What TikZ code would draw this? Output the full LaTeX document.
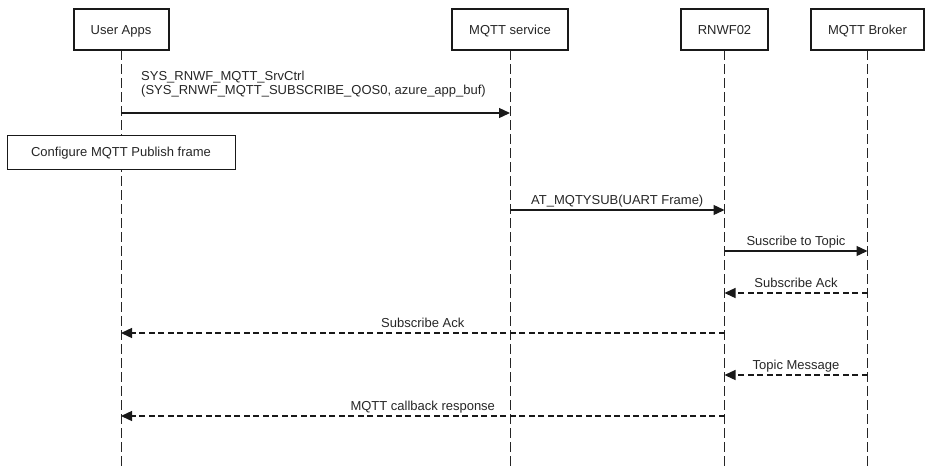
\documentclass[tikz,border=0pt]{standalone}
\usepackage{fontspec}
\setmainfont{Liberation Sans}
\usetikzlibrary{arrows.meta}
\begin{document}
\begin{tikzpicture}[x=1pt,y=-1pt,
  every node/.style={font=\fontsize{13}{14}\selectfont, text=black!85},
  actor/.style={draw=black!90, line width=2pt, minimum height=41pt, inner sep=0pt, fill=white, text height=9.4pt, text depth=0pt},
  notebox/.style={draw=black!90, line width=1pt, minimum height=34pt, inner sep=0pt, fill=white, text height=9.4pt, text depth=0pt},
  life/.style={draw=black!85, line width=1pt, dash pattern=on 10pt off 4pt},
  msg/.style={draw=black!90, line width=1.3pt, -{Triangle[length=11pt,width=10pt]}},
  reply/.style={msg, dash pattern=on 6pt off 3.5pt},
  lbl/.style={anchor=base, yshift=5.5pt, inner sep=0pt}
]
\useasboundingbox (0,0) rectangle (930,467);
% lifelines
\coordinate (uab) at (121,467);
\coordinate (msb) at (510,467);
\coordinate (rnb) at (724.5,467);
\coordinate (brb) at (867.5,467);
\draw[life] (121,50) -- (uab);
\draw[life] (510,50) -- (msb);
\draw[life] (724.5,50) -- (rnb);
\draw[life] (867.5,50) -- (brb);
% actors
\node[actor, minimum width=95pt] (ua) at (121,29.5) {User Apps};
\node[actor, minimum width=116pt] (ms) at (510,29.5) {MQTT service};
\node[actor, minimum width=87pt] (rn) at (724.5,29.5) {RNWF02};
\node[actor, minimum width=113pt] (br) at (867.5,29.5) {MQTT Broker};
% message 1
\draw[msg] (ua |- 0,113) -- (ms |- 0,113);
\node[anchor=base west, align=left, inner sep=0pt] (l1) at (141,94) {SYS\_RNWF\_MQTT\_SrvCtrl\\(SYS\_RNWF\_MQTT\_SUBSCRIBE\_QOS0, azure\_app\_buf)};
% note
\node[notebox, minimum width=228pt] (cfg) at (121,152) {Configure MQTT Publish frame};
% message 2
\draw[msg] (ms |- 0,210) -- node[lbl] (l2) {AT\_MQTYSUB(UART Frame)} (rn |- 0,210);
% message 3
\draw[msg] (rn |- 0,251) -- node[lbl] (l3) {Suscribe to Topic} (br |- 0,251);
% message 4
\draw[reply] (br |- 0,293) -- node[lbl] (l4) {Subscribe Ack} (rn |- 0,293);
% message 5
\draw[reply] (rn |- 0,333) -- node[lbl] (l5) {Subscribe Ack} (ua |- 0,333);
% message 6
\draw[reply] (br |- 0,375) -- node[lbl] (l6) {Topic Message} (rn |- 0,375);
% message 7
\draw[reply] (rn |- 0,416) -- node[lbl] (l7) {MQTT callback response} (ua |- 0,416);
\end{tikzpicture}
\end{document}
